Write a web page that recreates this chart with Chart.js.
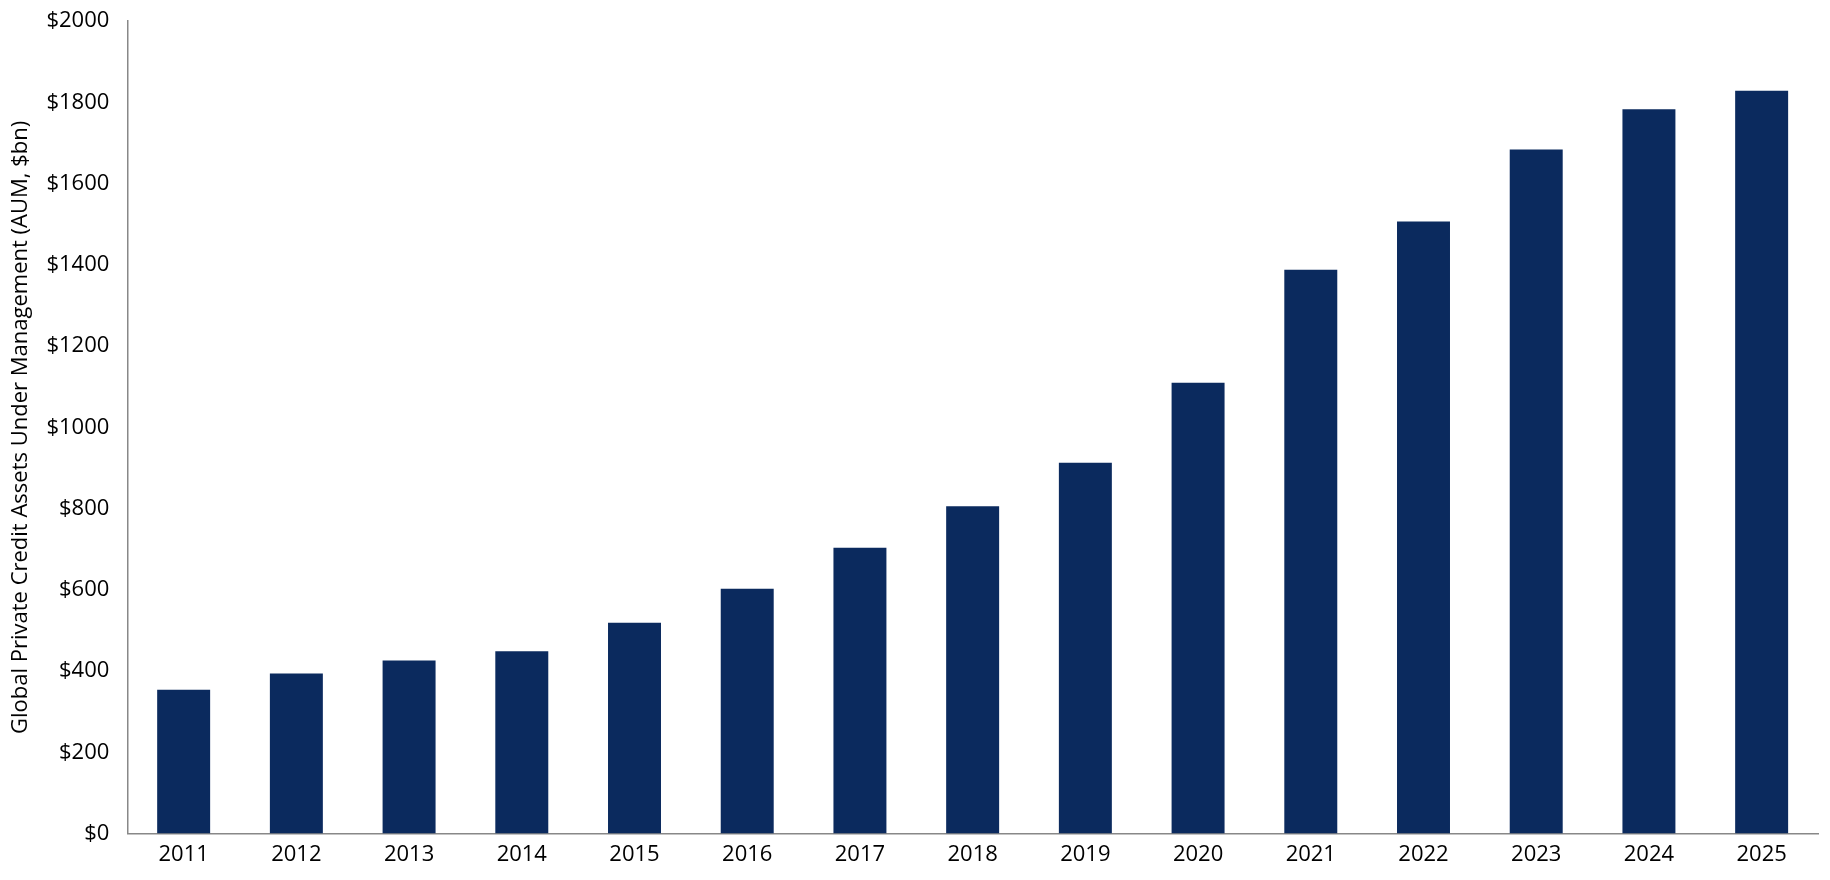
<!DOCTYPE html>
<html><head><meta charset="utf-8">
<script src="https://cdn.jsdelivr.net/npm/chart.js@4"></script>
<style>html,body{margin:0;padding:0;background:#fff}#w{width:1830px;height:880px}</style>
</head><body><div id="w"><canvas id="c"></canvas></div>
<script>
const years = ["2011","2012","2013","2014","2015","2016","2017","2018","2019","2020","2021","2022","2023","2024","2025"];
const aum = [354,394,426,449,519,603,704,806,913,1110,1388,1507,1684,1783,1829];
const yTitle = "Global Private Credit Assets Under Management (AUM, $bn)";
Chart.defaults.font.family = "'Open Sans', sans-serif";
Chart.defaults.color = "#000";
new Chart(document.getElementById('c'), {
  type: 'bar',
  data: { labels: years, datasets: [{ data: aum, backgroundColor: '#0b2a5e', barPercentage: 0.47, categoryPercentage: 1 }] },
  options: {
    responsive: true, maintainAspectRatio: false, animation: false,
    layout: { padding: { top: 14, right: 12, bottom: 4, left: 4 } },
    plugins: { legend: { display: false }, tooltip: { enabled: false } },
    scales: {
      x: { grid: { display: false, drawTicks: false }, border: { color: '#888', width: 1.5 },
           ticks: { font: { size: 22 }, padding: 8 } },
      y: { min: 0, max: 2000, grid: { display: false, drawOnChartArea: false, drawTicks: true, tickLength: 10, color: '#888' },
           border: { color: '#888', width: 1.5 },
           ticks: { stepSize: 200, font: { size: 22 }, padding: 8, callback: v => '$' + v },
           title: { display: true, text: yTitle, font: { size: 22 }, padding: 4 } }
    }
  }
});
</script></body></html>
